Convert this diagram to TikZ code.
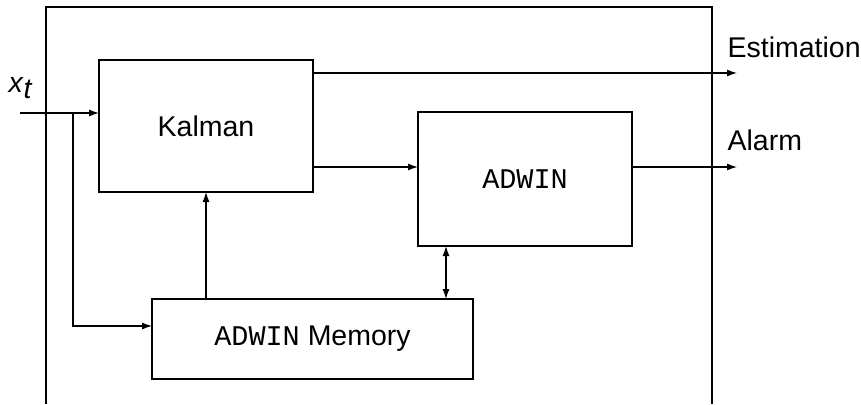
\documentclass[tikz,border=0pt]{standalone}
\usepackage{fontspec}
\setmainfont{Liberation Sans}
\setmonofont{Liberation Mono}
\usetikzlibrary{arrows.meta}
\begin{document}
\begin{tikzpicture}[x=1pt,y=-1pt,
  font=\fontsize{28.5}{32}\selectfont,
  line width=1.2pt,
  block/.style={draw, inner sep=0pt, outer sep=0pt},
  flow/.style={-{Latex[length=10pt,width=7pt]}},
  both/.style={{Latex[length=10pt,width=7pt]}-{Latex[length=10pt,width=7pt]}}]
  \useasboundingbox (0,0) rectangle (861,404);

  % open enclosing frame
  \draw (46,404) -- (46,7) -- (712,7) -- (712,404);

  % blocks
  \node[block, minimum width=214pt, minimum height=132pt] (kal) at (206,126) {Kalman};
  \node[block, minimum width=214pt, minimum height=134pt] (adw) at (525,179) {\texttt{ADWIN}};
  \node[block, minimum width=321pt, minimum height=80pt] (mem) at (312.5,339) {\texttt{ADWIN} Memory};

  % helper points
  \coordinate (in) at (20,113);
  \coordinate (br) at (73,113);
  \coordinate (memin) at (152,326);
  \coordinate (estout) at (737,73);
  \coordinate (almout) at (737,167);
  \coordinate (mid) at (446,0);

  % input and its branch to the memory block
  \draw[flow] (in) -- (in -| kal.west);
  \draw[flow] (br) |- (memin);

  % memory feeds Kalman
  \draw[flow] (mem.north -| kal.south) -- (kal.south);

  % Kalman to ADWIN and outputs
  \draw[flow] (kal.east |- almout) -- (adw.west |- almout);
  \draw[flow] (kal.east |- estout) -- (estout);
  \draw[flow] (adw.east |- almout) -- (almout);

  % ADWIN <-> memory
  \draw[both] (adw.south -| mid) -- (mem.north -| mid);

  % labels
  \node[anchor=base west, inner sep=0pt] (est) at (727,57) {Estimation};
  \node[anchor=base west, inner sep=0pt] (alm) at (727,150) {Alarm};
  \node[anchor=base west, inner sep=0pt] (xt) at (8,92) {\textit{x}\raisebox{-6pt}{\textit{t}}};
\end{tikzpicture}
\end{document}
